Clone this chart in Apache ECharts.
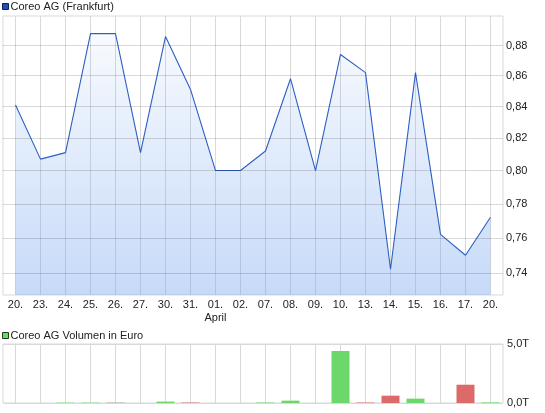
<!DOCTYPE html>
<html>
<head>
<meta charset="utf-8">
<script src="https://cdn.jsdelivr.net/npm/echarts@6/dist/echarts.min.js"></script>
<style>
html,body{margin:0;padding:0;background:#fff;}
#c{width:545px;height:413px;}
</style>
</head>
<body>
<div id="c"></div>
<script>
const categories = ['20.','23.','24.','25.','26.','27.','30.','31.','01.','02.','07.','08.','09.','10.','13.','14.','15.','16.','17.','20.'];
const prices = [0.841,0.807,0.811,0.888,0.888,0.811,0.886,0.851,0.800,0.800,0.812,0.858,0.800,0.874,0.862,0.742,0.862,0.762,0.750,0.772];
const volumes = [0,0,30,30,40,0,120,40,0,0,40,200,0,4410,40,620,370,0,1550,50];
const priceTicks = [0.74,0.76,0.78,0.80,0.82,0.84,0.86,0.88];
const volumeTicks = [0,5000];
const monthLabelIndex = 8;
const monthLabel = 'April';

const font = 'Liberation Sans, Arial, sans-serif';
const textColor = '#222';
const gridColor = '#d9d9d9';

function deComma(v, d){ return v.toFixed(d).replace('.', ','); }

const volData = volumes.map((v,i)=>{
  let c = '#aaaaaa';
  if (i > 0) {
    if (prices[i] > prices[i-1]) c = '#6cd86c';
    else if (prices[i] < prices[i-1]) c = '#dd6a6a';
  }
  return {value: v, itemStyle: {color: c}};
});

const chart = echarts.init(document.getElementById('c'), null, {renderer:'canvas'});
chart.setOption({
  animation: false,
  textStyle: {fontFamily: font},
  legend: [
    {data: ['Coreo AG (Frankfurt)'], left: 2, top: 1, padding: 0, icon: 'rect', itemWidth: 6, itemHeight: 6, itemGap: 0,
     itemStyle: {color: '#1f4fb5', borderColor: '#0a1f55', borderWidth: 1},
     textStyle: {fontFamily: font, fontSize: 11, color: textColor, padding: [0,0,0,-3]}, selectedMode: false},
    {data: ['Coreo AG Volumen in Euro'], left: 2, top: 330, padding: 0, icon: 'rect', itemWidth: 6, itemHeight: 6, itemGap: 0,
     itemStyle: {color: '#6cd86c', borderColor: '#1d3d1d', borderWidth: 1},
     textStyle: {fontFamily: font, fontSize: 11, color: textColor, padding: [0,0,0,-3]}, selectedMode: false}
  ],
  grid: [
    {left: 3, right: 42, top: 16, height: 279, show: true, borderColor: gridColor, borderWidth: 1, backgroundColor: '#fff'},
    {left: 3, right: 42, top: 344, height: 59, show: true, borderColor: gridColor, borderWidth: 1, backgroundColor: '#fff'}
  ],
  xAxis: [
    {type: 'category', gridIndex: 0, data: categories, boundaryGap: true,
     axisLine: {show: false}, axisTick: {show: false},
     axisLabel: {interval: 0, margin: 3, fontFamily: font, fontSize: 11, color: textColor, lineHeight: 13,
       formatter: (v, i) => i === monthLabelIndex ? v + '\n' + monthLabel : v},
     splitLine: {show: true, interval: 0, alignWithLabel: true, lineStyle: {color: gridColor, width: 1}}},
    {type: 'category', gridIndex: 1, data: categories, boundaryGap: true,
     axisLine: {show: false}, axisTick: {show: false}, axisLabel: {show: false},
     splitLine: {show: true, interval: 0, alignWithLabel: true, lineStyle: {color: gridColor, width: 1}}}
  ],
  yAxis: [
    {type: 'log', gridIndex: 0, min: 0.7276, max: 0.9, position: 'right',
     axisLine: {show: false}, axisTick: {show: false}, axisLabel: {show: false}, splitLine: {show: false}},
    {type: 'value', gridIndex: 1, min: volumeTicks[0], max: volumeTicks[1], interval: volumeTicks[1] - volumeTicks[0], position: 'right',
     axisLine: {show: false}, axisTick: {show: false},
     axisLabel: {margin: 4, fontFamily: font, fontSize: 11, color: textColor,
       formatter: v => deComma(v/1000, 1) + 'T'},
     splitLine: {show: true, lineStyle: {color: gridColor}}}
  ],
  series: [
    {name: 'Coreo AG (Frankfurt)', type: 'line', xAxisIndex: 0, yAxisIndex: 0, data: prices,
     symbol: 'none', showSymbol: false, silent: true,
     lineStyle: {color: '#2c5fc4', width: 1.1},
     itemStyle: {color: '#2c5fc4'},
     areaStyle: {color: new echarts.graphic.LinearGradient(0,0,0,1,[
       {offset: 0, color: 'rgba(110,160,238,0.07)'},
       {offset: 1, color: 'rgba(110,160,238,0.56)'}])},
     markLine: {silent: true, symbol: ['none','none'], animation: false,
       lineStyle: {color: 'rgba(0,0,0,0.15)', type: 'solid', width: 1},
       label: {show: true, position: 'end', distance: 3, fontFamily: font, fontSize: 11, color: textColor,
         formatter: p => deComma(p.value, 2)},
       emphasis: {disabled: true},
       data: priceTicks.map(v => ({yAxis: v}))}},
    {name: 'Coreo AG Volumen in Euro', type: 'bar', xAxisIndex: 1, yAxisIndex: 1, data: volData,
     barWidth: 18, silent: true, itemStyle: {color: '#6cd86c'}}
  ]
});
</script>
</body>
</html>
